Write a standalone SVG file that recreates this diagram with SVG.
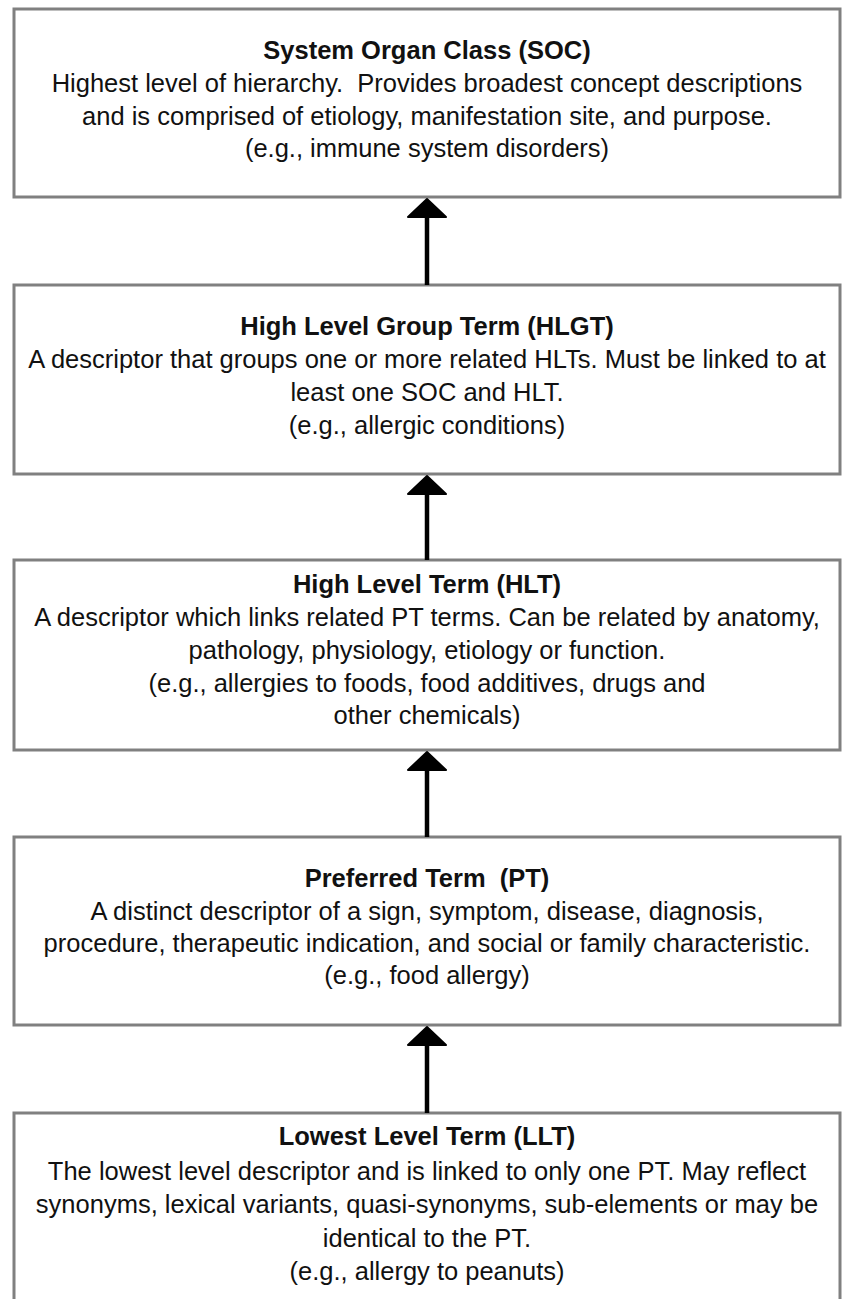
<svg xmlns="http://www.w3.org/2000/svg" width="845" height="1299" viewBox="0 0 845 1299">
<style>
.box{fill:#fff;stroke:#808080;stroke-width:3}
text{font-family:"Liberation Sans",Arial,sans-serif;font-size:25.5px;fill:#111;text-anchor:middle;white-space:pre}
.t{font-weight:bold}
.shaft{stroke:#000;stroke-width:4.5;fill:none}
.head{fill:#000;stroke:#000;stroke-width:2;stroke-linejoin:round}
</style>
<rect width="845" height="1299" fill="#fff"/>
<g id="soc">
<rect class="box" x="14" y="9" width="826" height="188"/>
<text class="t" x="427" y="59">System Organ Class (SOC)</text>
<text x="427" y="92" xml:space="preserve">Highest level of hierarchy.  Provides broadest concept descriptions</text>
<text x="427" y="125">and is comprised of etiology, manifestation site, and purpose.</text>
<text x="427" y="157">(e.g., immune system disorders)</text>
</g>
<g id="hlgt">
<rect class="box" x="14" y="285" width="826" height="189"/>
<text class="t" x="427" y="335">High Level Group Term (HLGT)</text>
<text x="427" y="368">A descriptor that groups one or more related HLTs. Must be linked to at</text>
<text x="427" y="401">least one SOC and HLT.</text>
<text x="427" y="434">(e.g., allergic conditions)</text>
</g>
<g id="hlt">
<rect class="box" x="14" y="560" width="826" height="190"/>
<text class="t" x="427" y="593">High Level Term (HLT)</text>
<text x="427" y="626">A descriptor which links related PT terms. Can be related by anatomy,</text>
<text x="427" y="659">pathology, physiology, etiology or function.</text>
<text x="427" y="692">(e.g., allergies to foods, food additives, drugs and</text>
<text x="427" y="724">other chemicals)</text>
</g>
<g id="pt">
<rect class="box" x="14" y="837" width="826" height="188"/>
<text class="t" x="427" y="887" xml:space="preserve">Preferred Term  (PT)</text>
<text x="427" y="920">A distinct descriptor of a sign, symptom, disease, diagnosis,</text>
<text x="427" y="952">procedure, therapeutic indication, and social or family characteristic.</text>
<text x="427" y="984">(e.g., food allergy)</text>
</g>
<g id="llt">
<rect class="box" x="14" y="1113" width="826" height="200"/>
<text class="t" x="427" y="1145">Lowest Level Term (LLT)</text>
<text x="427" y="1180">The lowest level descriptor and is linked to only one PT. May reflect</text>
<text x="427" y="1213">synonyms, lexical variants, quasi-synonyms, sub-elements or may be</text>
<text x="427" y="1247">identical to the PT.</text>
<text x="427" y="1280">(e.g., allergy to peanuts)</text>
</g>
<g id="connectors">
<line class="shaft" x1="427" y1="285" x2="427" y2="214"/>
<polygon class="head" points="427,199 446,217 408,217"/>
<line class="shaft" x1="427" y1="560" x2="427" y2="490"/>
<polygon class="head" points="427,476 446,494 408,494"/>
<line class="shaft" x1="427" y1="837" x2="427" y2="766"/>
<polygon class="head" points="427,752 446,770 408,770"/>
<line class="shaft" x1="427" y1="1113" x2="427" y2="1042"/>
<polygon class="head" points="427,1027 446,1045 408,1045"/>
</g>
</svg>
